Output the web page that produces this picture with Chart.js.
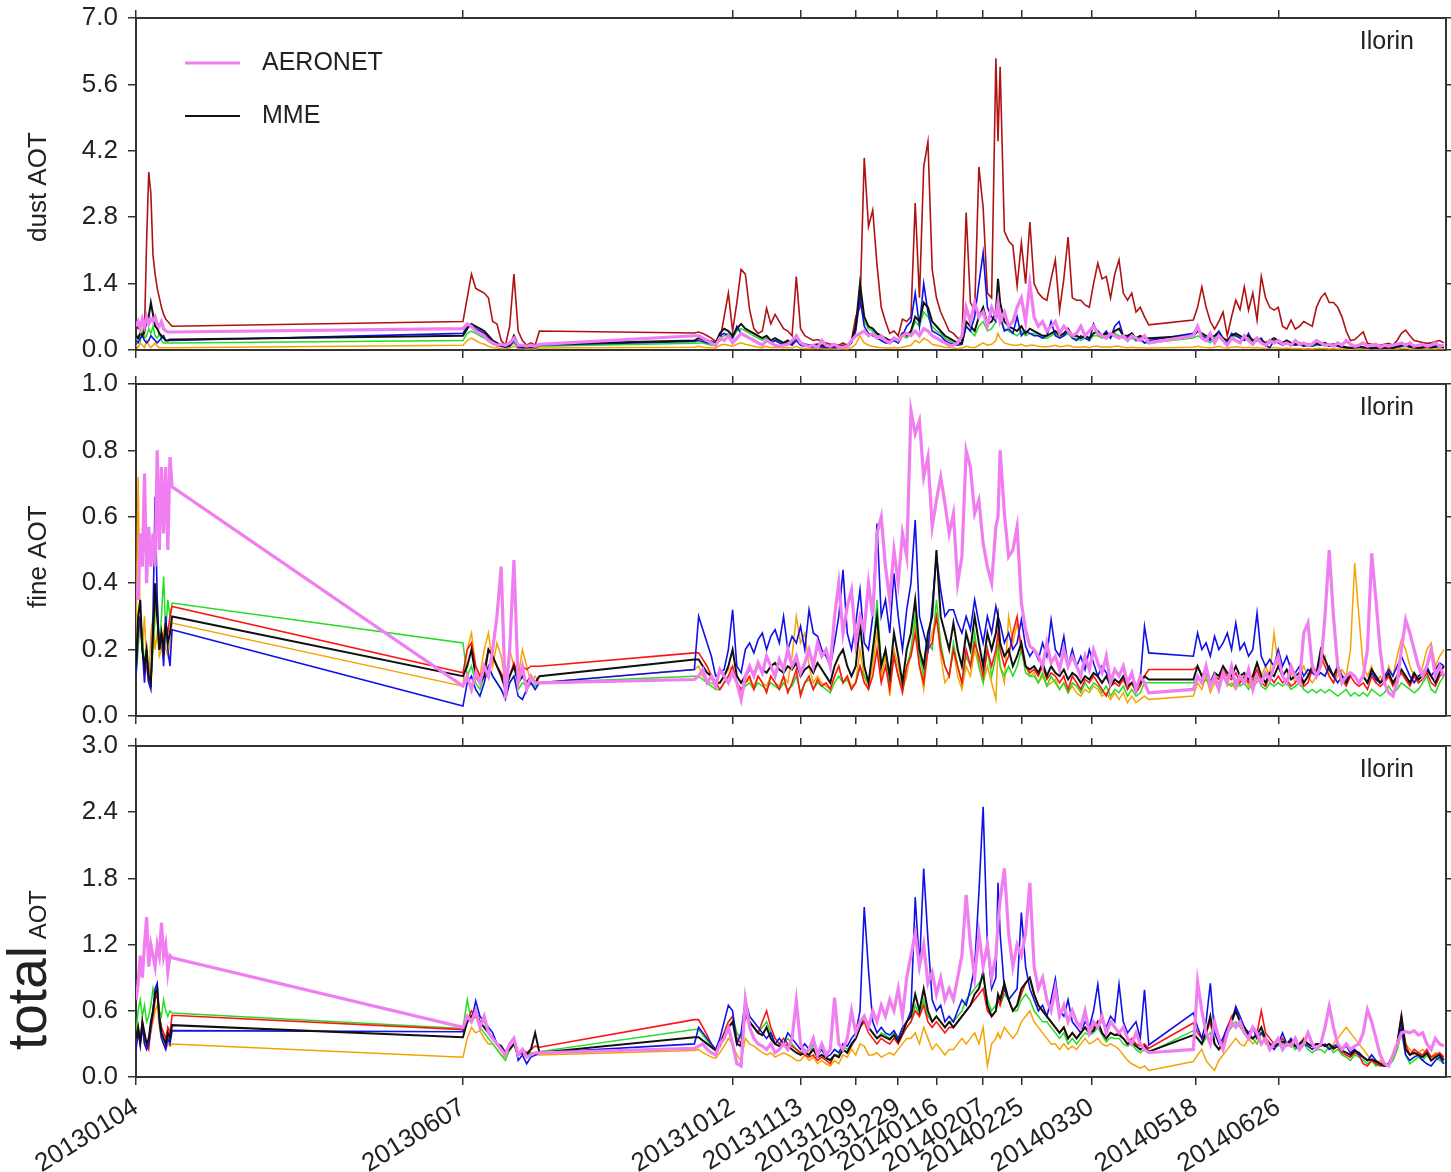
<!DOCTYPE html>
<html>
<head>
<meta charset="utf-8">
<title>Ilorin AOT</title>
<script src="https://cdn.jsdelivr.net/npm/chart.js@4.4.1/dist/chart.umd.min.js"></script>
<style>
  html, body { margin: 0; padding: 0; background: #fff; }
  #wrap { position: relative; width: 1451px; height: 1172px; overflow: hidden; background: #fff; }
  #wrap canvas { position: absolute; left: 0; }
</style>
</head>
<body>
<div id="wrap">
  <canvas id="cDust" width="1451" height="402" style="top:-12px"></canvas>
  <canvas id="cFine" width="1451" height="400" style="top:350px"></canvas>
  <canvas id="cTotal" width="1451" height="462" style="top:710px"></canvas>
</div>
<script>
// ---------------------------------------------------------------------------
// Observation days, counted from 2013-01-04
// ---------------------------------------------------------------------------
const START_DATE = '20130104';
const X_MAX = 617;

const days = [
  0,1,2,3,4,5,6,7,8,9,10,11,12,13,14,15,16,17,
  154,156,158,160,162,164,166,168,170,172,174,176,178,180,182,184,186,188,190,
  263,265,267,269,271,273,275,277,279,281,283,
  285,287,289,291,293,295,297,299,301,303,
  305,307,309,311,313,315,317,319,321,323,
  325,327,329,331,333,335,337,339,341,343,
  345,347,349,351,353,355,357,359,361,363,
  365,367,369,371,373,375,377,379,381,383,
  385,387,389,391,393,395,397,399,401,403,
  405,406,407,409,411,413,415,417,419,421,
  423,425,427,429,431,433,435,437,439,441,
  443,445,447,449,451,453,455,457,459,461,
  463,465,467,469,471,473,475,477,
  498,500,502,504,506,508,510,512,514,516,
  518,520,522,524,526,528,530,532,534,536,
  538,540,542,544,546,548,550,552,554,556,
  558,560,562,564,566,568,570,572,574,576,
  578,580,582,584,586,588,590,592,594,596,
  598,600,602,604,606,608,610,612,614,616
];

const tickLabels = ['20130104','20130607','20131012','20131113','20131209','20131229',
                    '20140116','20140207','20140225','20140330','20140518','20140626'];

const dustTicks  = [0, 1.4, 2.8, 4.2, 5.6, 7.0];
const fineTicks  = [0, 0.2, 0.4, 0.6, 0.8, 1.0];
const totalTicks = [0, 0.6, 1.2, 1.8, 2.4, 3.0];

// ---------------------------------------------------------------------------
// dust AOT
// ---------------------------------------------------------------------------
const dustAeronet = [
  0.5,0.6,0.45,0.65,0.5,0.7,0.55,0.65,0.6,0.7,0.55,0.5,0.6,0.45,0.4,0.38,0.38,0.38,
  0.45,0.55,0.5,0.4,0.35,0.3,0.2,0.15,0.1,0.12,0.1,0.15,0.25,0.1,0.1,0.08,0.1,0.08,0.12,
  0.3,0.3,0.25,0.2,0.15,0.1,0.25,0.2,0.3,0.15,0.25,
  0.35,0.3,0.25,0.2,0.15,0.1,0.2,0.15,0.1,0.08,
  0.1,0.12,0.2,0.3,0.15,0.1,0.08,0.1,0.05,0.2,
  0.1,0.08,0.12,0.05,0.06,0.08,0.2,0.3,0.35,0.4,
  0.3,0.35,0.25,0.3,0.2,0.15,0.25,0.2,0.3,0.35,
  0.3,0.4,0.3,0.45,0.4,0.3,0.25,0.2,0.15,0.1,
  0.1,0.15,0.3,0.9,0.6,1.0,0.7,0.8,0.5,0.9,
  0.7,1.0,0.6,0.8,0.5,0.6,0.9,1.1,0.6,1.4,
  0.7,0.5,0.6,0.4,0.5,0.6,0.35,0.5,0.4,0.3,
  0.35,0.5,0.3,0.4,0.5,0.35,0.3,0.25,0.35,0.3,
  0.25,0.3,0.2,0.3,0.25,0.2,0.3,0.15,
  0.3,0.5,0.25,0.2,0.35,0.15,0.3,0.2,0.1,0.25,
  0.2,0.15,0.3,0.2,0.12,0.25,0.15,0.1,0.2,0.15,
  0.2,0.12,0.15,0.1,0.2,0.12,0.15,0.1,0.12,0.2,
  0.15,0.1,0.12,0.08,0.15,0.1,0.2,0.12,0.08,0.1,
  0.15,0.08,0.1,0.12,0.06,0.1,0.08,0.1,0.12,0.15,
  0.1,0.15,0.08,0.1,0.12,0.08,0.1,0.15,0.08,0.1
];
const dustMME = [
  0.3,0.25,0.35,0.3,0.4,0.6,0.7,1.0,0.75,0.5,0.45,0.35,0.3,0.25,0.2,0.2,0.22,0.22,
  0.3,0.45,0.55,0.5,0.45,0.4,0.3,0.2,0.15,0.1,0.08,0.1,0.3,0.1,0.08,0.06,0.08,0.06,0.12,
  0.2,0.25,0.22,0.2,0.18,0.15,0.35,0.45,0.4,0.3,0.45,
  0.55,0.45,0.4,0.35,0.3,0.25,0.3,0.2,0.25,0.2,
  0.15,0.2,0.15,0.3,0.15,0.12,0.1,0.1,0.12,0.1,
  0.08,0.1,0.08,0.06,0.1,0.08,0.2,0.5,1.4,0.7,
  0.5,0.45,0.35,0.3,0.25,0.2,0.25,0.2,0.35,0.3,
  0.4,0.7,0.6,1.0,0.9,0.6,0.5,0.4,0.3,0.25,
  0.2,0.15,0.15,0.6,0.5,0.4,0.7,0.9,0.55,0.6,
  0.8,1.5,1.0,0.6,0.5,0.45,0.4,0.5,0.35,0.45,
  0.4,0.35,0.3,0.3,0.35,0.4,0.3,0.35,0.45,0.3,
  0.3,0.25,0.3,0.25,0.35,0.4,0.3,0.35,0.3,0.4,
  0.45,0.3,0.3,0.35,0.25,0.3,0.25,0.25,
  0.3,0.4,0.35,0.3,0.25,0.3,0.35,0.25,0.2,0.3,
  0.35,0.3,0.25,0.3,0.2,0.25,0.2,0.15,0.2,0.25,
  0.2,0.15,0.2,0.15,0.12,0.15,0.1,0.12,0.1,0.15,
  0.12,0.15,0.1,0.12,0.1,0.08,0.06,0.05,0.06,0.08,
  0.06,0.05,0.04,0.05,0.04,0.05,0.06,0.05,0.08,0.1,
  0.12,0.08,0.06,0.05,0.06,0.08,0.06,0.08,0.1,0.06
];
const dustRed = [
  0.55,0.45,0.5,0.6,0.4,2.3,3.75,3.3,2.0,1.6,1.3,1.1,0.9,0.75,0.65,0.6,0.55,0.5,
  0.6,1.1,1.6,1.3,1.25,1.2,1.1,0.6,0.55,0.2,0.1,0.5,1.6,0.4,0.2,0.1,0.15,0.1,0.4,
  0.36,0.38,0.35,0.3,0.25,0.18,0.2,0.7,1.2,0.4,1.0,
  1.7,1.6,0.85,0.45,0.35,0.4,0.88,0.55,0.75,0.6,
  0.45,0.4,0.3,1.55,0.45,0.3,0.25,0.2,0.22,0.18,
  0.15,0.12,0.12,0.1,0.15,0.1,0.2,0.7,0.9,4.05,
  2.6,2.95,1.8,0.9,0.6,0.35,0.4,0.3,0.65,0.6,
  0.7,3.1,1.1,3.86,4.39,1.7,1.1,0.8,0.6,0.4,
  0.35,0.25,0.2,2.9,1.0,0.84,3.86,3.0,1.2,1.1,
  6.15,4.4,5.97,2.5,2.3,2.2,1.35,2.26,1.4,2.7,
  1.4,1.2,1.1,1.05,1.5,1.9,0.84,1.5,2.38,1.1,
  1.05,1.05,0.95,0.9,1.4,1.83,1.5,1.55,1.1,1.6,
  1.9,1.2,1.05,1.2,0.8,0.9,0.7,0.53,
  0.63,0.9,1.33,0.9,0.6,0.44,0.6,0.8,0.3,0.7,
  1.05,0.85,1.33,0.84,1.2,0.63,1.55,1.1,0.9,0.84,
  0.9,0.5,0.44,0.63,0.44,0.5,0.6,0.55,0.5,0.9,
  1.1,1.2,1.0,1.0,0.9,0.7,0.4,0.2,0.22,0.3,
  0.38,0.14,0.12,0.1,0.1,0.12,0.14,0.1,0.2,0.35,
  0.42,0.3,0.2,0.18,0.16,0.14,0.15,0.18,0.2,0.15
];
const dustBlue = [
  0.2,0.15,0.25,0.3,0.2,0.15,0.2,0.3,0.25,0.2,0.15,0.2,0.25,0.3,0.2,0.2,0.2,0.2,
  0.35,0.5,0.55,0.45,0.4,0.35,0.25,0.15,0.1,0.08,0.06,0.08,0.2,0.06,0.05,0.05,0.06,0.05,0.1,
  0.18,0.2,0.18,0.15,0.15,0.12,0.3,0.35,0.3,0.25,0.5,
  0.35,0.3,0.25,0.2,0.15,0.12,0.2,0.15,0.2,0.15,
  0.1,0.15,0.1,0.2,0.1,0.08,0.08,0.06,0.08,0.06,
  0.05,0.06,0.05,0.05,0.08,0.06,0.15,0.4,1.1,0.5,
  0.35,0.3,0.25,0.2,0.15,0.15,0.2,0.15,0.3,0.5,
  0.6,1.2,0.5,1.4,0.8,0.4,0.35,0.3,0.2,0.15,
  0.12,0.1,0.12,0.5,0.4,0.7,1.4,2.05,0.9,0.7,
  0.6,0.9,0.7,0.4,0.45,0.35,0.7,0.3,0.4,0.35,
  0.3,0.3,0.25,0.3,0.6,0.3,0.25,0.3,0.4,0.25,
  0.2,0.3,0.25,0.2,0.55,0.35,0.3,0.4,0.25,0.5,
  0.6,0.3,0.25,0.35,0.2,0.25,0.15,0.2,
  0.35,0.5,0.3,0.25,0.2,0.3,0.4,0.25,0.15,0.35,
  0.3,0.25,0.2,0.35,0.15,0.2,0.25,0.1,0.05,0.2,
  0.15,0.1,0.15,0.12,0.1,0.12,0.08,0.1,0.08,0.12,
  0.1,0.12,0.08,0.1,0.08,0.06,0.05,0.04,0.05,0.06,
  0.05,0.04,0.03,0.04,0.03,0.04,0.05,0.04,0.06,0.08,
  0.1,0.06,0.05,0.04,0.05,0.06,0.05,0.06,0.08,0.05
];
const dustGreen = [
  0.15,0.3,0.2,0.4,0.25,0.3,0.45,0.35,0.5,0.3,0.25,0.35,0.2,0.15,0.15,0.15,0.15,0.15,
  0.2,0.35,0.4,0.35,0.3,0.25,0.2,0.12,0.1,0.08,0.06,0.08,0.15,0.06,0.05,0.05,0.05,0.05,0.08,
  0.14,0.15,0.15,0.12,0.1,0.1,0.25,0.3,0.35,0.25,0.4,
  0.45,0.4,0.35,0.3,0.25,0.2,0.25,0.15,0.2,0.15,
  0.12,0.15,0.1,0.25,0.12,0.1,0.08,0.08,0.1,0.08,
  0.06,0.08,0.06,0.05,0.08,0.06,0.15,0.45,1.2,0.6,
  0.45,0.4,0.3,0.25,0.2,0.15,0.2,0.15,0.3,0.25,
  0.35,0.6,0.5,0.8,0.7,0.5,0.4,0.35,0.25,0.2,
  0.15,0.12,0.12,0.5,0.4,0.3,0.5,0.6,0.4,0.45,
  0.6,1.0,0.7,0.45,0.4,0.35,0.3,0.4,0.3,0.35,
  0.35,0.3,0.25,0.25,0.3,0.35,0.25,0.3,0.35,0.25,
  0.25,0.2,0.25,0.2,0.3,0.3,0.25,0.3,0.25,0.35,
  0.3,0.25,0.2,0.25,0.2,0.2,0.15,0.15,
  0.25,0.3,0.25,0.2,0.15,0.25,0.3,0.2,0.15,0.25,
  0.3,0.25,0.2,0.25,0.15,0.2,0.15,0.1,0.15,0.2,
  0.15,0.12,0.15,0.12,0.1,0.12,0.08,0.1,0.08,0.1,
  0.1,0.12,0.08,0.1,0.08,0.06,0.05,0.04,0.05,0.06,
  0.05,0.04,0.03,0.04,0.03,0.04,0.05,0.04,0.06,0.07,
  0.08,0.06,0.05,0.04,0.05,0.06,0.05,0.06,0.07,0.05
];
const dustOrange = [
  0.1,0.05,0.15,0.1,0.05,0.2,0.1,0.05,0.1,0.15,0.08,0.05,0.05,0.05,0.05,0.05,0.05,0.05,
  0.1,0.2,0.25,0.2,0.15,0.12,0.08,0.05,0.04,0.03,0.03,0.04,0.08,0.03,0.03,0.02,0.03,0.02,0.04,
  0.06,0.08,0.06,0.05,0.05,0.04,0.1,0.12,0.1,0.08,0.12,
  0.15,0.12,0.1,0.08,0.06,0.05,0.08,0.05,0.06,0.05,
  0.04,0.05,0.04,0.08,0.04,0.03,0.03,0.03,0.04,0.03,
  0.02,0.03,0.02,0.02,0.03,0.02,0.05,0.12,0.3,0.15,
  0.1,0.08,0.06,0.05,0.04,0.04,0.05,0.04,0.06,0.08,
  0.1,0.2,0.15,0.25,0.2,0.12,0.1,0.08,0.06,0.05,
  0.04,0.03,0.04,0.08,0.06,0.05,0.1,0.15,0.1,0.12,
  0.2,0.35,0.25,0.15,0.12,0.1,0.1,0.12,0.08,0.1,
  0.1,0.08,0.07,0.07,0.08,0.1,0.07,0.08,0.1,0.07,
  0.06,0.06,0.07,0.05,0.08,0.08,0.06,0.07,0.06,0.08,
  0.08,0.06,0.05,0.06,0.05,0.05,0.04,0.04,
  0.06,0.08,0.06,0.05,0.04,0.06,0.08,0.05,0.04,0.06,
  0.07,0.06,0.05,0.06,0.04,0.05,0.04,0.03,0.04,0.05,
  0.04,0.03,0.04,0.03,0.03,0.03,0.02,0.03,0.02,0.03,
  0.03,0.03,0.02,0.03,0.02,0.02,0.02,0.01,0.02,0.02,
  0.02,0.01,0.01,0.02,0.01,0.02,0.02,0.02,0.02,0.03,
  0.03,0.02,0.02,0.02,0.02,0.02,0.02,0.02,0.03,0.02
];

// ---------------------------------------------------------------------------
// fine AOT
// ---------------------------------------------------------------------------
const fineAeronet = [
  0.4,0.35,0.55,0.45,0.73,0.4,0.57,0.45,0.55,0.45,0.8,0.5,0.75,0.55,0.75,0.5,0.78,0.69,
  0.09,0.12,0.08,0.13,0.1,0.15,0.12,0.2,0.3,0.45,0.05,0.2,0.47,0.1,0.15,0.08,0.12,0.1,0.1,
  0.11,0.12,0.14,0.1,0.12,0.09,0.14,0.12,0.1,0.13,0.1,
  0.05,0.12,0.15,0.12,0.16,0.13,0.18,0.15,0.12,0.17,
  0.14,0.2,0.15,0.18,0.13,0.16,0.2,0.15,0.22,0.18,
  0.2,0.15,0.3,0.4,0.25,0.33,0.38,0.22,0.3,0.26,
  0.4,0.3,0.55,0.6,0.45,0.35,0.5,0.4,0.55,0.48,
  0.92,0.85,0.89,0.72,0.78,0.57,0.65,0.72,0.64,0.55,
  0.61,0.4,0.48,0.8,0.75,0.61,0.65,0.52,0.45,0.4,
  0.57,0.6,0.8,0.61,0.48,0.5,0.57,0.34,0.26,0.21,
  0.2,0.18,0.15,0.22,0.16,0.18,0.14,0.2,0.15,0.18,
  0.15,0.12,0.18,0.14,0.2,0.16,0.13,0.18,0.1,0.14,
  0.12,0.15,0.1,0.13,0.08,0.12,0.1,0.07,
  0.08,0.12,0.1,0.15,0.09,0.12,0.08,0.13,0.1,0.15,
  0.09,0.12,0.1,0.14,0.08,0.12,0.1,0.13,0.11,0.15,
  0.18,0.12,0.1,0.15,0.12,0.1,0.25,0.28,0.15,0.12,
  0.15,0.3,0.5,0.3,0.15,0.1,0.12,0.13,0.12,0.1,
  0.12,0.2,0.49,0.35,0.2,0.1,0.07,0.06,0.1,0.2,
  0.29,0.25,0.2,0.15,0.12,0.15,0.2,0.12,0.15,0.12
];
const fineMME = [
  0.15,0.3,0.35,0.2,0.15,0.2,0.12,0.1,0.25,0.4,0.3,0.2,0.25,0.2,0.28,0.22,0.25,0.3,
  0.12,0.15,0.2,0.12,0.1,0.12,0.2,0.18,0.15,0.12,0.08,0.12,0.15,0.1,0.12,0.1,0.12,0.1,0.12,
  0.17,0.17,0.15,0.13,0.12,0.1,0.1,0.12,0.15,0.2,0.12,
  0.1,0.12,0.14,0.13,0.15,0.14,0.13,0.15,0.16,0.14,
  0.13,0.15,0.14,0.16,0.12,0.14,0.15,0.13,0.16,0.14,
  0.12,0.1,0.15,0.18,0.2,0.15,0.12,0.15,0.28,0.15,
  0.1,0.2,0.3,0.15,0.2,0.12,0.25,0.18,0.1,0.2,
  0.25,0.35,0.2,0.15,0.25,0.3,0.5,0.3,0.25,0.2,
  0.28,0.2,0.15,0.25,0.2,0.3,0.22,0.15,0.25,0.2,
  0.25,0.3,0.22,0.18,0.2,0.15,0.18,0.22,0.15,0.14,
  0.15,0.13,0.16,0.12,0.15,0.13,0.12,0.14,0.11,0.13,
  0.12,0.1,0.12,0.11,0.13,0.12,0.1,0.12,0.09,0.11,
  0.1,0.12,0.09,0.1,0.08,0.1,0.12,0.11,
  0.11,0.15,0.12,0.14,0.1,0.13,0.12,0.15,0.13,0.12,
  0.15,0.12,0.13,0.11,0.12,0.16,0.12,0.1,0.13,0.12,
  0.15,0.12,0.14,0.11,0.12,0.13,0.1,0.12,0.15,0.13,
  0.2,0.17,0.14,0.12,0.15,0.12,0.1,0.13,0.12,0.1,
  0.12,0.1,0.14,0.12,0.1,0.11,0.13,0.1,0.12,0.14,
  0.12,0.1,0.13,0.11,0.12,0.14,0.12,0.1,0.13,0.15
];
const fineRed = [
  0.15,0.25,0.3,0.2,0.15,0.15,0.1,0.1,0.25,0.35,0.3,0.2,0.25,0.22,0.28,0.25,0.3,0.33,
  0.13,0.2,0.22,0.15,0.12,0.14,0.2,0.18,0.15,0.13,0.1,0.12,0.16,0.12,0.15,0.14,0.15,0.15,0.15,
  0.19,0.19,0.17,0.15,0.12,0.1,0.08,0.1,0.12,0.15,0.1,
  0.08,0.1,0.12,0.08,0.12,0.1,0.07,0.12,0.1,0.08,
  0.12,0.07,0.1,0.14,0.06,0.1,0.12,0.08,0.11,0.09,
  0.1,0.08,0.12,0.15,0.1,0.12,0.08,0.1,0.15,0.1,
  0.08,0.12,0.2,0.1,0.15,0.08,0.18,0.12,0.07,0.15,
  0.18,0.25,0.15,0.1,0.2,0.22,0.3,0.2,0.15,0.12,
  0.2,0.15,0.1,0.2,0.15,0.22,0.18,0.12,0.2,0.15,
  0.2,0.25,0.2,0.15,0.18,0.25,0.3,0.2,0.15,0.13,
  0.14,0.12,0.15,0.11,0.13,0.12,0.1,0.12,0.08,0.12,
  0.1,0.08,0.11,0.1,0.12,0.1,0.08,0.06,0.09,0.1,
  0.09,0.11,0.08,0.1,0.07,0.09,0.12,0.14,
  0.14,0.15,0.12,0.13,0.1,0.12,0.11,0.14,0.12,0.11,
  0.13,0.1,0.12,0.1,0.11,0.14,0.1,0.09,0.12,0.1,
  0.12,0.1,0.11,0.09,0.1,0.12,0.09,0.1,0.14,0.12,
  0.18,0.15,0.12,0.1,0.14,0.11,0.09,0.12,0.1,0.09,
  0.1,0.08,0.12,0.1,0.09,0.1,0.12,0.09,0.11,0.13,
  0.11,0.09,0.12,0.1,0.11,0.13,0.1,0.09,0.12,0.13
];
const fineBlue = [
  0.12,0.25,0.3,0.2,0.1,0.2,0.1,0.08,0.3,0.66,0.35,0.2,0.25,0.15,0.3,0.2,0.15,0.26,
  0.03,0.1,0.12,0.08,0.06,0.1,0.15,0.12,0.1,0.08,0.05,0.1,0.12,0.06,0.05,0.08,0.1,0.08,0.1,
  0.14,0.3,0.26,0.22,0.18,0.12,0.13,0.14,0.2,0.32,0.15,
  0.13,0.2,0.22,0.19,0.23,0.25,0.2,0.24,0.26,0.22,
  0.3,0.2,0.24,0.22,0.27,0.2,0.32,0.25,0.24,0.2,
  0.18,0.15,0.22,0.3,0.44,0.25,0.2,0.28,0.38,0.22,
  0.2,0.3,0.58,0.3,0.35,0.25,0.43,0.3,0.2,0.32,
  0.4,0.59,0.3,0.25,0.2,0.33,0.48,0.38,0.3,0.32,
  0.32,0.28,0.25,0.3,0.26,0.35,0.28,0.22,0.3,0.25,
  0.33,0.3,0.28,0.22,0.25,0.2,0.22,0.29,0.21,0.18,
  0.2,0.17,0.22,0.18,0.29,0.2,0.18,0.24,0.15,0.2,
  0.15,0.18,0.14,0.2,0.16,0.12,0.15,0.13,0.11,0.14,
  0.12,0.15,0.1,0.12,0.09,0.11,0.27,0.19,
  0.18,0.25,0.2,0.22,0.18,0.24,0.2,0.22,0.25,0.2,
  0.28,0.2,0.22,0.18,0.2,0.31,0.18,0.15,0.17,0.15,
  0.2,0.15,0.18,0.14,0.13,0.15,0.12,0.14,0.13,0.12,
  0.13,0.12,0.15,0.12,0.1,0.12,0.11,0.13,0.12,0.1,
  0.12,0.1,0.13,0.11,0.1,0.12,0.14,0.12,0.15,0.18,
  0.15,0.12,0.1,0.12,0.13,0.15,0.12,0.14,0.16,0.15
];
const fineGreen = [
  0.12,0.2,0.3,0.25,0.15,0.2,0.1,0.1,0.2,0.3,0.35,0.2,0.3,0.42,0.25,0.35,0.3,0.34,
  0.22,0.12,0.15,0.1,0.08,0.12,0.15,0.12,0.1,0.08,0.06,0.1,0.12,0.08,0.1,0.09,0.1,0.09,0.1,
  0.12,0.12,0.11,0.1,0.09,0.08,0.08,0.1,0.12,0.13,0.1,
  0.07,0.09,0.1,0.08,0.1,0.09,0.08,0.1,0.09,0.08,
  0.1,0.08,0.09,0.12,0.07,0.1,0.11,0.08,0.1,0.09,
  0.08,0.07,0.1,0.12,0.1,0.11,0.08,0.1,0.15,0.12,
  0.1,0.18,0.35,0.15,0.2,0.1,0.18,0.12,0.08,0.15,
  0.2,0.3,0.18,0.12,0.22,0.2,0.35,0.22,0.15,0.12,
  0.22,0.15,0.1,0.18,0.15,0.25,0.15,0.1,0.2,0.12,
  0.18,0.22,0.15,0.12,0.15,0.12,0.15,0.2,0.13,0.12,
  0.12,0.1,0.13,0.09,0.12,0.1,0.08,0.1,0.07,0.1,
  0.09,0.07,0.1,0.08,0.1,0.09,0.07,0.09,0.06,0.08,
  0.07,0.09,0.06,0.08,0.06,0.07,0.1,0.1,
  0.1,0.12,0.1,0.11,0.09,0.11,0.1,0.12,0.1,0.09,
  0.11,0.09,0.1,0.08,0.1,0.12,0.09,0.08,0.1,0.09,
  0.1,0.09,0.1,0.08,0.09,0.1,0.08,0.07,0.08,0.07,
  0.08,0.07,0.08,0.07,0.06,0.07,0.08,0.06,0.07,0.06,
  0.07,0.06,0.08,0.07,0.06,0.07,0.09,0.07,0.08,0.1,
  0.09,0.08,0.07,0.08,0.1,0.12,0.08,0.07,0.1,0.12
];
const fineOrange = [
  0.2,0.72,0.25,0.2,0.3,0.15,0.1,0.25,0.3,0.2,0.25,0.18,0.2,0.25,0.2,0.18,0.22,0.28,
  0.09,0.2,0.25,0.15,0.12,0.2,0.25,0.15,0.22,0.18,0.1,0.2,0.15,0.12,0.2,0.15,0.1,0.12,0.1,
  0.14,0.15,0.12,0.1,0.1,0.09,0.1,0.12,0.14,0.15,0.1,
  0.08,0.1,0.11,0.09,0.12,0.1,0.09,0.12,0.1,0.09,
  0.12,0.1,0.18,0.3,0.22,0.25,0.15,0.1,0.12,0.1,
  0.09,0.08,0.12,0.15,0.1,0.12,0.09,0.1,0.2,0.12,
  0.08,0.15,0.25,0.12,0.18,0.06,0.2,0.15,0.08,0.12,
  0.2,0.28,0.15,0.08,0.2,0.25,0.3,0.18,0.1,0.12,
  0.2,0.12,0.08,0.15,0.12,0.2,0.15,0.1,0.15,0.1,
  0.05,0.2,0.15,0.1,0.3,0.22,0.28,0.2,0.15,0.12,
  0.13,0.1,0.12,0.09,0.1,0.11,0.08,0.1,0.07,0.09,
  0.07,0.06,0.08,0.07,0.09,0.08,0.06,0.07,0.05,0.07,
  0.05,0.07,0.04,0.06,0.04,0.05,0.06,0.05,
  0.06,0.1,0.08,0.12,0.07,0.1,0.08,0.12,0.09,0.1,
  0.08,0.1,0.12,0.09,0.11,0.1,0.12,0.15,0.12,0.25,
  0.15,0.12,0.1,0.13,0.1,0.12,0.15,0.12,0.1,0.12,
  0.15,0.18,0.12,0.1,0.12,0.14,0.12,0.2,0.46,0.3,
  0.15,0.12,0.15,0.1,0.12,0.1,0.15,0.12,0.18,0.23,
  0.2,0.15,0.12,0.1,0.15,0.2,0.22,0.15,0.18,0.2
];

// ---------------------------------------------------------------------------
// total AOT
// ---------------------------------------------------------------------------
const totalAeronet = [
  0.7,0.85,1.1,0.9,1.2,1.45,1.0,1.2,1.1,1.0,1.2,1.1,1.4,1.1,1.2,0.95,1.1,1.08,
  0.45,0.55,0.5,0.6,0.45,0.55,0.4,0.35,0.3,0.25,0.2,0.3,0.35,0.2,0.25,0.18,0.2,0.22,0.22,
  0.26,0.28,0.3,0.25,0.22,0.2,0.3,0.35,0.45,0.3,0.12,
  0.1,0.7,0.45,0.35,0.3,0.28,0.25,0.3,0.22,0.25,
  0.3,0.25,0.35,0.69,0.3,0.22,0.25,0.35,0.2,0.3,
  0.2,0.25,0.72,0.3,0.25,0.35,0.6,0.4,0.5,0.55,
  0.45,0.6,0.5,0.65,0.55,0.7,0.6,0.8,0.55,0.9,
  1.1,1.3,1.0,1.2,0.85,0.95,0.75,0.9,0.7,0.8,
  0.7,0.9,1.1,1.65,1.2,0.9,1.3,1.0,1.2,0.9,
  1.1,1.4,1.6,1.89,1.3,1.0,1.2,1.1,1.3,1.76,
  1.0,0.8,0.9,0.7,0.6,0.8,0.55,0.65,0.5,0.6,
  0.5,0.45,0.6,0.4,0.5,0.45,0.55,0.4,0.5,0.45,
  0.4,0.45,0.35,0.3,0.4,0.3,0.25,0.22,
  0.25,0.86,0.6,0.4,0.3,0.5,0.35,0.25,0.4,0.5,
  0.45,0.5,0.4,0.35,0.45,0.4,0.3,0.35,0.25,0.3,
  0.35,0.25,0.3,0.28,0.35,0.25,0.3,0.4,0.3,0.25,
  0.3,0.45,0.64,0.45,0.3,0.25,0.3,0.25,0.28,0.3,
  0.4,0.61,0.5,0.35,0.2,0.12,0.1,0.2,0.3,0.4,
  0.41,0.4,0.42,0.38,0.4,0.3,0.25,0.35,0.3,0.28
];
const totalMME = [
  0.35,0.45,0.3,0.5,0.4,0.3,0.35,0.5,0.6,0.75,0.8,0.55,0.4,0.35,0.3,0.4,0.35,0.47,
  0.36,0.5,0.55,0.6,0.5,0.45,0.4,0.35,0.3,0.28,0.22,0.25,0.3,0.2,0.22,0.2,0.25,0.4,0.22,
  0.36,0.36,0.33,0.3,0.27,0.24,0.28,0.38,0.45,0.5,0.3,
  0.28,0.6,0.5,0.45,0.4,0.38,0.45,0.35,0.3,0.28,
  0.3,0.28,0.25,0.22,0.2,0.22,0.2,0.25,0.18,0.2,
  0.17,0.15,0.2,0.18,0.25,0.22,0.3,0.35,0.45,0.55,
  0.45,0.4,0.35,0.38,0.36,0.34,0.38,0.32,0.4,0.5,
  0.55,0.75,0.6,0.8,0.6,0.5,0.55,0.5,0.45,0.5,
  0.45,0.5,0.55,0.6,0.65,0.75,0.8,0.95,0.65,0.55,
  0.6,0.75,0.7,0.85,0.7,0.6,0.65,0.8,0.85,0.9,
  0.75,0.65,0.6,0.55,0.5,0.45,0.4,0.45,0.35,0.4,
  0.35,0.4,0.45,0.4,0.42,0.5,0.4,0.35,0.4,0.38,
  0.38,0.35,0.3,0.32,0.28,0.25,0.28,0.23,
  0.38,0.35,0.3,0.4,0.55,0.3,0.25,0.3,0.4,0.5,
  0.6,0.5,0.45,0.38,0.35,0.38,0.45,0.35,0.3,0.28,
  0.3,0.32,0.3,0.33,0.28,0.3,0.33,0.3,0.28,0.3,
  0.3,0.28,0.3,0.26,0.28,0.24,0.22,0.2,0.24,0.22,
  0.18,0.15,0.16,0.14,0.12,0.1,0.12,0.2,0.3,0.55,
  0.25,0.2,0.22,0.2,0.18,0.22,0.15,0.18,0.2,0.15
];
const totalRed = [
  0.3,0.45,0.35,0.5,0.35,0.3,0.25,0.45,0.55,0.7,0.75,0.55,0.45,0.4,0.35,0.45,0.4,0.56,
  0.43,0.5,0.6,0.55,0.5,0.45,0.4,0.35,0.3,0.25,0.22,0.3,0.35,0.2,0.25,0.22,0.25,0.28,0.27,
  0.52,0.52,0.45,0.38,0.3,0.25,0.3,0.4,0.5,0.55,0.35,
  0.3,0.55,0.5,0.45,0.4,0.5,0.6,0.45,0.35,0.3,
  0.35,0.3,0.28,0.25,0.22,0.2,0.18,0.2,0.15,0.18,
  0.15,0.12,0.2,0.18,0.25,0.22,0.28,0.35,0.45,0.5,
  0.4,0.35,0.3,0.35,0.32,0.3,0.35,0.3,0.38,0.45,
  0.5,0.6,0.55,0.65,0.5,0.45,0.5,0.45,0.4,0.45,
  0.45,0.5,0.55,0.6,0.65,0.7,0.75,0.8,0.6,0.55,
  0.6,0.7,0.65,0.8,0.7,0.6,0.65,0.75,0.85,0.9,
  0.75,0.65,0.6,0.55,0.5,0.45,0.4,0.45,0.35,0.4,
  0.35,0.4,0.45,0.4,0.45,0.5,0.4,0.35,0.4,0.38,
  0.4,0.35,0.3,0.35,0.3,0.28,0.3,0.26,
  0.49,0.4,0.35,0.4,0.5,0.3,0.25,0.35,0.45,0.55,
  0.6,0.5,0.45,0.4,0.35,0.4,0.6,0.4,0.35,0.3,
  0.3,0.35,0.3,0.32,0.28,0.3,0.35,0.3,0.28,0.3,
  0.3,0.28,0.3,0.25,0.28,0.22,0.2,0.18,0.22,0.2,
  0.12,0.1,0.15,0.12,0.1,0.1,0.12,0.2,0.3,0.56,
  0.3,0.2,0.25,0.22,0.2,0.25,0.18,0.2,0.22,0.18
];
const totalBlue = [
  0.25,0.4,0.3,0.45,0.3,0.25,0.3,0.45,0.6,0.8,0.85,0.5,0.35,0.3,0.25,0.35,0.3,0.42,
  0.41,0.55,0.5,0.69,0.55,0.5,0.45,0.4,0.3,0.25,0.2,0.3,0.35,0.15,0.2,0.12,0.18,0.2,0.22,
  0.3,0.45,0.4,0.35,0.3,0.25,0.35,0.5,0.65,0.6,0.3,
  0.4,0.7,0.55,0.5,0.45,0.4,0.35,0.4,0.3,0.35,
  0.3,0.4,0.35,0.3,0.25,0.3,0.25,0.35,0.2,0.25,
  0.18,0.2,0.25,0.22,0.3,0.28,0.35,0.4,0.6,1.54,
  0.97,0.5,0.4,0.45,0.4,0.38,0.42,0.35,0.45,0.5,
  0.6,1.63,1.0,1.89,1.25,0.7,0.6,0.65,0.5,0.55,
  0.5,0.6,0.7,0.65,0.8,1.0,1.67,2.45,1.2,0.8,
  0.9,1.76,1.3,0.8,0.7,0.75,0.8,1.49,1.0,0.8,
  0.7,0.6,0.65,0.55,0.7,0.89,0.6,0.55,0.7,0.5,
  0.45,0.4,0.5,0.45,0.6,0.84,0.5,0.45,0.55,0.5,
  0.84,0.5,0.4,0.45,0.5,0.35,0.79,0.29,
  0.58,0.45,0.35,0.5,0.85,0.4,0.3,0.35,0.45,0.5,
  0.64,0.55,0.45,0.4,0.45,0.35,0.4,0.35,0.3,0.25,
  0.3,0.4,0.3,0.35,0.28,0.25,0.3,0.28,0.25,0.3,
  0.28,0.3,0.25,0.28,0.3,0.25,0.28,0.22,0.25,0.2,
  0.18,0.15,0.2,0.15,0.12,0.1,0.12,0.2,0.3,0.45,
  0.2,0.15,0.18,0.2,0.15,0.12,0.1,0.15,0.18,0.12
];
const totalGreen = [
  0.4,0.6,0.7,0.55,0.65,0.5,0.55,0.65,0.8,0.7,0.75,0.6,0.55,0.7,0.6,0.55,0.6,0.58,
  0.44,0.7,0.5,0.55,0.45,0.4,0.35,0.3,0.25,0.2,0.15,0.25,0.3,0.2,0.25,0.2,0.22,0.2,0.23,
  0.43,0.43,0.38,0.33,0.28,0.25,0.3,0.4,0.5,0.55,0.4,
  0.35,0.6,0.5,0.45,0.4,0.45,0.5,0.4,0.35,0.3,
  0.3,0.35,0.3,0.25,0.22,0.25,0.2,0.3,0.18,0.2,
  0.18,0.16,0.2,0.2,0.28,0.25,0.3,0.35,0.45,0.5,
  0.45,0.4,0.35,0.4,0.38,0.35,0.4,0.33,0.4,0.45,
  0.5,0.65,0.55,0.7,0.55,0.5,0.55,0.5,0.45,0.5,
  0.5,0.55,0.6,0.7,0.75,0.8,0.85,0.9,0.7,0.6,
  0.65,0.7,0.65,0.75,0.7,0.6,0.6,0.7,0.75,0.7,
  0.6,0.55,0.5,0.5,0.45,0.4,0.35,0.4,0.3,0.35,
  0.3,0.35,0.4,0.38,0.4,0.45,0.38,0.32,0.36,0.35,
  0.35,0.3,0.28,0.3,0.25,0.22,0.25,0.22,
  0.42,0.35,0.3,0.35,0.4,0.3,0.25,0.3,0.4,0.45,
  0.5,0.45,0.4,0.35,0.35,0.3,0.4,0.35,0.3,0.28,
  0.28,0.3,0.28,0.3,0.25,0.28,0.3,0.25,0.22,0.25,
  0.25,0.22,0.28,0.22,0.25,0.2,0.18,0.15,0.2,0.18,
  0.15,0.12,0.15,0.1,0.12,0.1,0.1,0.15,0.25,0.4,
  0.2,0.12,0.15,0.18,0.15,0.2,0.15,0.18,0.15,0.12
];
const totalOrange = [
  0.3,0.4,0.35,0.45,0.3,0.25,0.3,0.4,0.5,0.6,0.65,0.45,0.35,0.3,0.25,0.3,0.28,0.3,
  0.18,0.35,0.45,0.4,0.42,0.35,0.3,0.3,0.25,0.2,0.18,0.25,0.3,0.2,0.22,0.2,0.22,0.2,0.2,
  0.24,0.25,0.22,0.2,0.18,0.17,0.22,0.28,0.35,0.3,0.2,
  0.15,0.35,0.3,0.28,0.25,0.22,0.2,0.22,0.18,0.2,
  0.22,0.2,0.18,0.15,0.15,0.2,0.15,0.18,0.12,0.15,
  0.12,0.1,0.15,0.12,0.2,0.18,0.25,0.2,0.3,0.28,
  0.2,0.2,0.22,0.18,0.2,0.22,0.2,0.25,0.3,0.35,
  0.35,0.4,0.3,0.45,0.35,0.25,0.3,0.25,0.2,0.25,
  0.25,0.3,0.35,0.3,0.35,0.4,0.3,0.45,0.1,0.3,
  0.35,0.4,0.35,0.45,0.4,0.35,0.4,0.5,0.55,0.6,
  0.5,0.45,0.4,0.35,0.3,0.3,0.25,0.3,0.25,0.28,
  0.25,0.3,0.35,0.3,0.32,0.35,0.3,0.28,0.3,0.28,
  0.25,0.2,0.15,0.12,0.1,0.08,0.1,0.06,
  0.14,0.2,0.25,0.15,0.1,0.06,0.15,0.2,0.25,0.3,
  0.35,0.3,0.28,0.35,0.3,0.35,0.4,0.3,0.28,0.25,
  0.3,0.35,0.28,0.3,0.25,0.3,0.35,0.28,0.25,0.3,
  0.3,0.28,0.25,0.3,0.35,0.4,0.45,0.4,0.35,0.3,
  0.25,0.2,0.15,0.12,0.15,0.1,0.12,0.15,0.25,0.4,
  0.3,0.25,0.2,0.22,0.25,0.2,0.18,0.22,0.2,0.18
];

// ---------------------------------------------------------------------------
// Drawing
// ---------------------------------------------------------------------------
const FONT = '"Liberation Sans", Arial, Helvetica, sans-serif';
const INK = '#222';
Chart.defaults.font.family = FONT;
Chart.defaults.color = INK;

function dayOf(label) {
  const t = s => Date.UTC(+s.slice(0, 4), +s.slice(4, 6) - 1, +s.slice(6, 8));
  return Math.round((t(label) - t(START_DATE)) / 864e5);
}
const tickDays = tickLabels.map(dayOf);

const toPoints = vals => days.map((d, i) => ({ x: d, y: vals[i] }));

// Station name, y-axis title and the small legend inside the frame
const panelDecor = {
  id: 'panelDecor',
  afterDraw(chart, args, opts) {
    const { ctx, chartArea: a } = chart;
    ctx.save();
    ctx.fillStyle = INK;
    ctx.font = '25px ' + FONT;
    ctx.textAlign = 'right';
    ctx.textBaseline = 'middle';
    ctx.fillText(opts.site, a.right - 32, a.top + 24);

    ctx.save();
    ctx.translate(46, a.bottom - opts.titleFromBottom);
    ctx.rotate(-Math.PI / 2);
    ctx.textAlign = 'left';
    ctx.textBaseline = 'alphabetic';
    let pos = 0;
    for (const part of opts.title) {
      ctx.font = part.size + 'px ' + FONT;
      ctx.fillText(part.text, pos, 0);
      pos += ctx.measureText(part.text).width;
    }
    ctx.restore();

    if (opts.legend) {
      ctx.font = '25px ' + FONT;
      ctx.textAlign = 'left';
      ctx.textBaseline = 'middle';
      opts.legend.forEach((idx, row) => {
        const ds = chart.data.datasets[idx];
        const y = a.top + 45 + row * 53;
        ctx.strokeStyle = ds.borderColor;
        ctx.lineWidth = ds.borderWidth;
        ctx.beginPath();
        ctx.moveTo(a.left + 49, y);
        ctx.lineTo(a.left + 104, y);
        ctx.stroke();
        ctx.fillStyle = INK;
        ctx.fillText(ds.label, a.left + 126, y);
      });
    }
    ctx.restore();
  }
};

const grid = len => ({ drawOnChartArea: false, drawTicks: true, tickLength: len, color: '#333', lineWidth: 1.5 });
const frame = { display: true, color: '#333', width: 2 };
const setTicks = list => scale => { scale.ticks = list.map(v => ({ value: v })); };

function makePanel(id, p) {
  const series = [
    { label: 'AERONET', data: p.aeronet, color: '#f07ef0', width: 3.2 },
    { label: 'MME',     data: p.mme,     color: '#111111', width: 2 },
    { label: 'model B', data: p.blue,    color: '#1010e8', width: 1.6 },
    { label: 'model R', data: p.red,     color: p.redColor, width: 1.6 },
    { label: 'model G', data: p.green,   color: '#22dd22', width: 1.5 },
    { label: 'model O', data: p.orange,  color: '#f5a300', width: 1.5 }
  ];
  return new Chart(document.getElementById(id), {
    type: 'line',
    data: {
      datasets: series.map(s => ({
        label: s.label,
        data: toPoints(s.data),
        borderColor: s.color,
        backgroundColor: s.color,
        borderWidth: s.width,
        pointRadius: 0,
        tension: 0,
        fill: false
      }))
    },
    options: {
      responsive: false,
      animation: false,
      events: [],
      layout: { padding: 0 },
      plugins: {
        legend: { display: false },
        tooltip: { enabled: false },
        panelDecor: { site: 'Ilorin', title: p.title, titleFromBottom: p.titleFromBottom, legend: p.legend }
      },
      scales: {
        x: {
          type: 'linear', position: 'bottom', min: 0, max: X_MAX,
          afterBuildTicks: setTicks(tickDays),
          afterFit: s => { s.height = p.bottomH; },
          ticks: {
            display: p.dates, autoSkip: false, maxRotation: 32, minRotation: 32,
            padding: 7, font: { size: 26 }, color: INK,
            callback: (v, i) => tickLabels[i]
          },
          grid: grid(8), border: frame
        },
        xTop: {
          type: 'linear', position: 'top', min: 0, max: X_MAX,
          afterBuildTicks: setTicks(tickDays),
          afterFit: s => { s.height = p.topH; },
          ticks: { display: false },
          grid: grid(8), border: frame
        },
        y: {
          type: 'linear', position: 'left', min: 0, max: p.yTicks[p.yTicks.length - 1],
          afterBuildTicks: setTicks(p.yTicks),
          afterFit: s => { s.width = 136; },
          ticks: { padding: 10, font: { size: 26 }, color: INK, callback: v => v.toFixed(1) },
          grid: grid(8), border: frame
        },
        yRight: {
          type: 'linear', position: 'right', min: 0, max: p.yTicks[p.yTicks.length - 1],
          afterBuildTicks: setTicks(p.yTicks),
          afterFit: s => { s.width = 5; },
          ticks: { display: false },
          grid: grid(5), border: frame
        }
      }
    },
    plugins: [panelDecor]
  });
}

makePanel('cDust', {
  aeronet: dustAeronet, mme: dustMME, blue: dustBlue, red: dustRed, green: dustGreen, orange: dustOrange,
  redColor: '#b01212', yTicks: dustTicks, topH: 30, bottomH: 40, dates: false,
  title: [{ text: 'dust AOT', size: 26 }], titleFromBottom: 108, legend: [0, 1]
});
makePanel('cFine', {
  aeronet: fineAeronet, mme: fineMME, blue: fineBlue, red: fineRed, green: fineGreen, orange: fineOrange,
  redColor: '#ff1414', yTicks: fineTicks, topH: 34, bottomH: 34, dates: false,
  title: [{ text: 'fine AOT', size: 26 }], titleFromBottom: 108, legend: null
});
makePanel('cTotal', {
  aeronet: totalAeronet, mme: totalMME, blue: totalBlue, red: totalRed, green: totalGreen, orange: totalOrange,
  redColor: '#ff1414', yTicks: totalTicks, topH: 36, bottomH: 95, dates: true,
  title: [{ text: 'total', size: 55 }, { text: ' AOT', size: 24 }], titleFromBottom: 27, legend: null
});
</script>
</body>
</html>
